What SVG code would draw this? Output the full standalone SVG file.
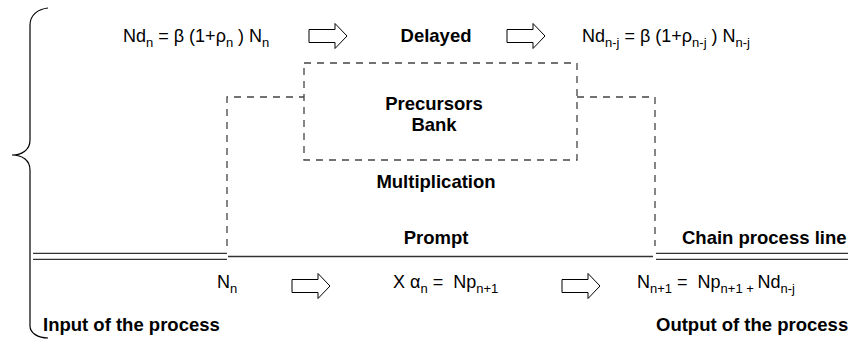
<svg xmlns="http://www.w3.org/2000/svg" width="848" height="341" viewBox="0 0 848 341">
<style>
text{font-family:"Liberation Sans",Arial,sans-serif;fill:#000}
.b{font-size:18.5px;font-weight:bold}
.r{font-size:18px}
.s{font-size:13px}
.dash{fill:none;stroke:#444;stroke-width:1.3;stroke-dasharray:7 6}
.line{fill:none;stroke:#333;stroke-width:1.3}
.arr{fill:#fff;stroke:#000;stroke-width:1}
.brace{fill:none;stroke:#000;stroke-width:1.2}
</style>
<defs>
<polygon id="blockArrow" class="arr" points="0,-6.5 26,-6.5 26,-12.5 38,0 26,12.5 26,6.5 0,6.5"/>
</defs>
<g id="brace">
<path class="brace" d="M48,8 C38,9 30,15 30,25 L30,140 C30,150 22,155 12,155 C22,155 30,160 30,170 L30,326 C30,333 38,338 48,338"/>
</g>
<g id="connectors">
<path class="dash" d="M227,246 L227,97 L304,97"/>
<path class="dash" d="M577,97 L655,97 L655,246"/>
<path class="line" d="M33,253.3 H227 M33,259.3 H227"/>
<path class="line" d="M228,256.5 H653"/>
<path class="line" d="M656,253.3 H848 M656,259.3 H848"/>
<use href="#blockArrow" x="309" y="36"/>
<use href="#blockArrow" x="507" y="36"/>
<use href="#blockArrow" x="292" y="286"/>
<use href="#blockArrow" x="562" y="286"/>
</g>
<g id="eq-nd-n">
<text class="r" x="123" y="42" xml:space="preserve">Nd<tspan class="s" dy="5">n</tspan><tspan dy="-5"> = β (1+ρ</tspan><tspan class="s" dy="5">n</tspan><tspan dy="-5"> ) N</tspan><tspan class="s" dy="5">n</tspan></text>
</g>
<g id="delayed">
<text class="b" x="436" y="42" text-anchor="middle">Delayed</text>
</g>
<g id="eq-nd-nj">
<text class="r" x="582" y="42" xml:space="preserve">Nd<tspan class="s" dy="5">n-j</tspan><tspan dy="-5"> = β (1+ρ</tspan><tspan class="s" dy="5">n-j</tspan><tspan dy="-5"> ) N</tspan><tspan class="s" dy="5">n-j</tspan></text>
</g>
<g id="precursors-bank">
<rect class="dash" x="304" y="63" width="273" height="97"/>
<text class="b" x="434" y="110" text-anchor="middle">Precursors</text>
<text class="b" x="434" y="131" text-anchor="middle">Bank</text>
</g>
<g id="multiplication">
<text class="b" x="436" y="188" text-anchor="middle">Multiplication</text>
</g>
<g id="prompt">
<text class="b" x="436" y="244" text-anchor="middle">Prompt</text>
</g>
<g id="chain-line">
<text class="b" x="682" y="244">Chain process line</text>
</g>
<g id="eq-input">
<text class="r" x="217" y="288">N<tspan class="s" dy="5">n</tspan></text>
</g>
<g id="eq-prompt">
<text class="r" x="393" y="288" xml:space="preserve">X α<tspan class="s" dy="5">n</tspan><tspan dy="-5"> =  Np</tspan><tspan class="s" dy="5">n+1</tspan></text>
</g>
<g id="eq-output">
<text class="r" x="637" y="288" xml:space="preserve">N<tspan class="s" dy="5">n+1</tspan><tspan dy="-5"> =  Np</tspan><tspan class="s" dy="5">n+1 + </tspan><tspan dy="-5">Nd</tspan><tspan class="s" dy="5">n-j</tspan></text>
</g>
<g id="input">
<text class="b" x="43" y="331">Input of the process</text>
</g>
<g id="output">
<text class="b" x="656" y="331">Output of the process</text>
</g>
</svg>
